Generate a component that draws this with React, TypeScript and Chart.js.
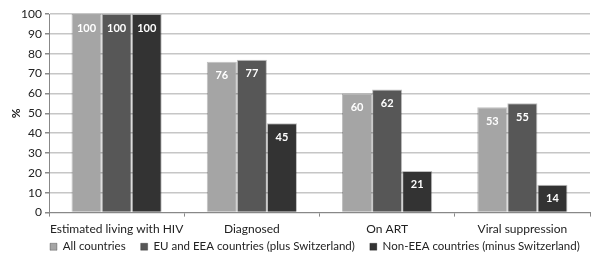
import React, { useEffect, useRef } from "react";
import { Chart, registerables } from "chart.js";

Chart.register(...registerables);

const categories = ["Estimated living with HIV", "Diagnosed", "On ART", "Viral suppression"];
const seriesNames = [
  "All countries",
  "EU and EEA countries (plus Switzerland)",
  "Non-EEA countries (minus Switzerland)",
];
const allCountries = [100, 76, 60, 53];
const euEea = [100, 77, 62, 55];
const nonEea = [100, 45, 21, 14];
const colors = ["#a5a5a5", "#575757", "#333333"];
const yTicks = [0, 10, 20, 30, 40, 50, 60, 70, 80, 90, 100];

const FONT = "Lato, 'Open Sans', sans-serif";
const LEGEND_PAD = 15;

const labelPlugin = {
  id: "barLabels",
  afterDatasetsDraw(chart: any) {
    const ctx = chart.ctx;
    ctx.save();
    ctx.fillStyle = "#ffffff";
    ctx.font = `bold 11px ${FONT}`;
    ctx.textAlign = "center";
    ctx.textBaseline = "middle";
    chart.data.datasets.forEach((ds: any, i: number) => {
      const meta = chart.getDatasetMeta(i);
      meta.data.forEach((bar: any, j: number) => {
        ctx.fillText(String(ds.data[j]), bar.x, bar.y + 14);
      });
    });
    ctx.restore();
  },
};

const legendLayoutPlugin = {
  id: "legendLayout",
  beforeLayout(chart: any) {
    const leg = chart.legend;
    if (leg && !leg._patchedFit) {
      const orig = leg.fit;
      leg.fit = function () {
        const mw = this.maxWidth;
        this.maxWidth = 2000;
        orig.call(this);
        this.maxWidth = mw;
        this.width = mw;
        this.height = 15;
      };
      leg._patchedFit = true;
    }
  },
  afterLayout(chart: any) {
    const leg = chart.legend;
    if (leg) {
      leg.left = 50 - LEGEND_PAD;
      leg.right = 2000;
      leg.top = 247 - LEGEND_PAD - 6;
      leg.bottom = 256;
    }
  },
};

export default function App() {
  const ref = useRef<HTMLCanvasElement>(null);
  useEffect(() => {
    if (!ref.current) return;
    const chart = new Chart(ref.current, {
      type: "bar",
      data: {
        labels: categories,
        datasets: [allCountries, euEea, nonEea].map((d, i) => ({
          label: seriesNames[i],
          data: d,
          backgroundColor: colors[i],
          borderColor: "rgba(0,0,0,0.25)",
          borderWidth: 1,
          categoryPercentage: 0.667,
          barPercentage: 1,
        })),
      },
      options: {
        animation: false,
        responsive: false,
        maintainAspectRatio: false,
        layout: { padding: { left: 0, right: 1, top: 14, bottom: 0 } },
        plugins: {
          tooltip: { enabled: false },
          legend: {
            position: "bottom",
            align: "start",
            labels: {
              boxWidth: 7,
              boxHeight: 7,
              padding: LEGEND_PAD,
              color: "#222",
              font: { family: FONT, size: 11.5 },
            },
          },
        },
        scales: {
          x: {
            grid: {
              display: true,
              drawOnChartArea: false,
              drawTicks: true,
              tickLength: 4,
              color: "#888",
            },
            border: { color: "#888", width: 1 },
            ticks: {
              color: "#222",
              font: { family: FONT, size: 12 },
              padding: 5,
              maxRotation: 0,
              autoSkip: false,
            },
          },
          y: {
            min: 0,
            max: 100,
            afterBuildTicks(scale: any) {
              scale.ticks = yTicks.map((v) => ({ value: v }));
            },
            afterFit(scale: any) {
              scale.width = 49;
            },
            grid: {
              color: "#c6c6c6",
              lineWidth: 1.5,
              tickLength: 4,
              tickColor: "#888",
            },
            border: { color: "#888", width: 1 },
            ticks: { color: "#222", font: { family: FONT, size: 12 }, padding: 3 },
            title: {
              display: true,
              text: "%",
              color: "#222",
              font: { family: FONT, size: 12, weight: "bold" },
              padding: { top: 9, bottom: 0 },
            },
          },
        },
      },
      plugins: [labelPlugin, legendLayoutPlugin],
    });
    return () => chart.destroy();
  }, []);
  return (
    <div style={{ position: "fixed", left: 0, top: 0, width: 591, height: 256, background: "#fff" }}>
      <canvas ref={ref} width={591} height={256} />
    </div>
  );
}
